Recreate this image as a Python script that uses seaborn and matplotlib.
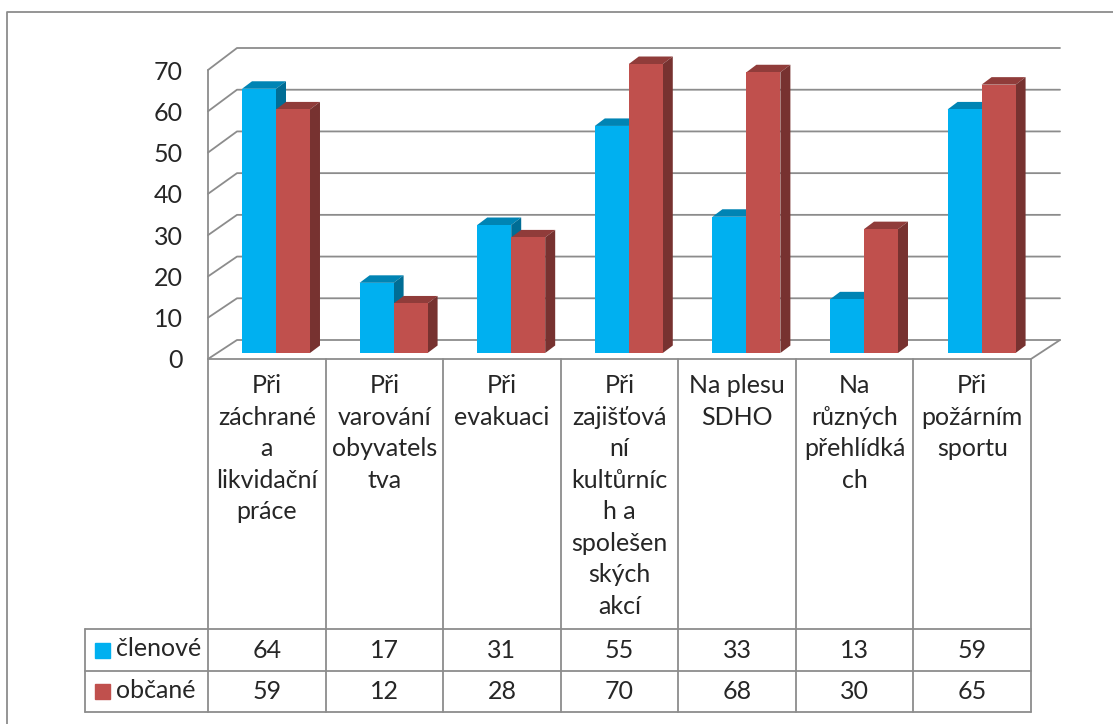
import matplotlib
matplotlib.use('Agg')
import matplotlib.pyplot as plt
import seaborn as sns
import pandas as pd
from matplotlib.patches import Polygon, Rectangle

# popisky kategorii tak, jak jsou zalomene v tabulce
kategorie = [
    'Při\nzáchrané\na\nlikvidační\npráce',
    'Při\nvarování\nobyvatels\ntva',
    'Při\nevakuaci',
    'Při\nzajišťová\nní\nkultůrníc\nh a\nspolešen\nských\nakcí',
    'Na plesu\nSDHO',
    'Na\nrůzných\npřehlídká\nch',
    'Při\npožárním\nsportu',
]
clenove = [64, 17, 31, 55, 33, 13, 59]
obcane = [59, 12, 28, 70, 68, 30, 65]
serie = ['členové', 'občané']
barvy = ['#00B0F0', '#C0504D']
osa_y = [0, 10, 20, 30, 40, 50, 60, 70]

df = pd.DataFrame({
    'kategorie': kategorie * 2,
    'skupina': [serie[0]] * len(clenove) + [serie[1]] * len(obcane),
    'hodnota': clenove + obcane,
})

sns.set_style('white')
plt.rcParams['font.family'] = ['Lato', 'DejaVu Sans']
plt.rcParams['font.size'] = 18

W, H = 1113, 724
fig = plt.figure(figsize=(W / 100, H / 100), dpi=100)


def box(x0, y0, x1, y1):
    return [x0 / W, 1 - y1 / H, (x1 - x0) / W, (y1 - y0) / H]


seda = '#8C8C8C'
lw = 1.3

# pozadi v pixelech
bg = fig.add_axes([0, 0, 1, 1])
bg.set_xlim(0, W)
bg.set_ylim(H, 0)
bg.axis('off')

# ramecek grafu
bg.plot([7, 7, W], [H, 12, 12], color=seda, lw=lw)

# steny 3D grafu
fx0, fx1, fy0, fy1 = 208, 1031, 359, 70
bx0, bx1, by0, by1 = 237, 1060, 340, 48
vmax = osa_y[-1]
for v in osa_y:
    yf = fy0 - (fy0 - fy1) * v / vmax
    yb = by0 - (by0 - by1) * v / vmax
    bg.plot([fx0, bx0, bx1], [yf, yb, yb], color=seda, lw=lw)
bg.plot([fx0, fx0], [fy1, fy0], color=seda, lw=lw)
bg.plot([fx0, fx1, bx1], [fy0, fy0, by0], color=seda, lw=lw)

# tabulka dat
n = len(kategorie)
col_w = (fx1 - fx0) / n
r0, r1, r2 = 629, 671, 712
for k in range(n + 1):
    bg.plot([fx0 + k * col_w] * 2, [fy0, r2], color=seda, lw=lw)
for yy in (r0, r1, r2):
    bg.plot([85, fx1], [yy, yy], color=seda, lw=lw)
bg.plot([85, 85], [r0, r2], color=seda, lw=lw)

for i, lab in enumerate(kategorie):
    cx = fx0 + (i + 0.5) * col_w
    bg.text(cx, 374, lab, ha='center', va='top', multialignment='center',
            linespacing=1.45)
    bg.text(cx, (r0 + r1) / 2, str(clenove[i]), ha='center', va='center')
    bg.text(cx, (r1 + r2) / 2, str(obcane[i]), ha='center', va='center')

for j, (jm, c) in enumerate(zip(serie, barvy)):
    yc = (r0 + r1) / 2 if j == 0 else (r1 + r2) / 2
    bg.add_patch(Rectangle((95, yc - 7.5), 15, 15, color=c))
    bg.text(116, yc - 1, jm, ha='left', va='center')

# popisky osy y na predni rovine
ax_f = fig.add_axes(box(fx0, fy1, fx1, fy0))
ax_f.set_ylim(0, vmax)
ax_f.set_yticks(osa_y)
ax_f.set_xticks([])
ax_f.tick_params(axis='y', length=0, pad=18)
ax_f.patch.set_alpha(0)
sns.despine(ax=ax_f, left=True, bottom=True)

# sloupce
ax = fig.add_axes(box(217.2, 64, 1040.4, 353))
sns.barplot(data=df, x='kategorie', y='hodnota', hue='skupina',
            hue_order=serie, palette=barvy, saturation=1, width=0.578,
            linewidth=0, legend=False, ax=ax)
ax.set_xlim(-0.5, n - 0.5)
ax.set_ylim(0, vmax)
ax.axis('off')
ax.patch.set_alpha(0)

dx = 10 / 117.6
dy = 7.5 / 4.13
for p in list(ax.patches):
    x0, w, h = p.get_x(), p.get_width(), p.get_height()
    r, g, b, _ = p.get_facecolor()
    horni = (r * 0.75, g * 0.75, b * 0.75)
    bok = (r * 0.62, g * 0.62, b * 0.62)
    ax.add_patch(Polygon([(x0, h), (x0 + w, h), (x0 + w + dx, h + dy), (x0 + dx, h + dy)],
                         closed=True, facecolor=horni, edgecolor='none',
                         zorder=0.5, clip_on=False))
    ax.add_patch(Polygon([(x0 + w, 0), (x0 + w + dx, dy), (x0 + w + dx, h + dy), (x0 + w, h)],
                         closed=True, facecolor=bok, edgecolor='none',
                         zorder=0.5, clip_on=False))

fig.savefig('out.png', dpi=100)
